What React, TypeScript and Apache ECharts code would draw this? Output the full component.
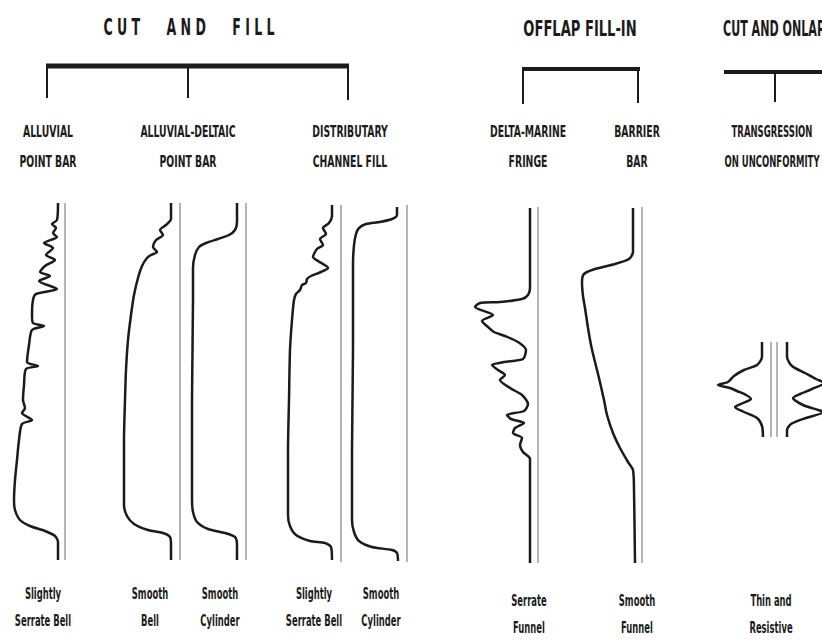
import React, { useEffect, useRef } from "react";
import * as echarts from "echarts";

// Log-track baselines: [x, topDepth, bottomDepth]
const trackBaselines: number[][] = [
  [65, 203, 560],
  [180, 203, 560],
  [246, 203, 560],
  [341, 205, 562],
  [407, 205, 562],
  [538, 207, 563],
  [642, 207, 563],
  [771, 342, 437],
  [777, 342, 437],
];

// Log curves: [response, depth]
const alluvialPointBar: number[][] = [
  [58, 203], [57, 220], [52, 224], [56, 228], [53, 233], [57, 237], [44, 243], [53, 248],
  [46, 255], [55, 260], [45, 266], [40, 272], [50, 276], [39, 281], [57, 289], [36, 294],
  [33, 300], [32, 315], [33, 323], [44, 326], [32, 330], [29, 345], [27, 362], [38, 366],
  [26, 369], [24, 385], [23, 400], [25, 408], [22, 413], [32, 420], [22, 424], [19, 440],
  [17, 460], [15, 480], [14, 500], [15, 510], [20, 520], [30, 526], [45, 531], [55, 536],
  [58, 542], [58, 560],
];
const alluvialDeltaicBell: number[][] = [
  [171, 203], [171, 219], [166, 225], [160, 230], [163, 235], [156, 240], [153, 247],
  [157, 252], [151, 255], [147, 258], [142, 266], [138, 278], [134, 295], [131, 315],
  [128, 340], [126, 370], [125, 400], [124, 440], [124, 480], [124, 505], [127, 516],
  [134, 524], [148, 530], [163, 533], [170, 537], [171, 545], [171, 560],
];
const alluvialDeltaicCylinder: number[][] = [
  [237, 203], [237, 222], [235, 230], [229, 235], [218, 239], [206, 243], [199, 247],
  [195, 255], [193, 268], [193, 300], [192, 400], [192, 500], [193, 512], [197, 522],
  [208, 529], [225, 533], [235, 537], [237, 545], [237, 560],
];
const distributaryBell: number[][] = [
  [332, 205], [332, 216], [329, 223], [323, 228], [326, 234], [320, 239], [323, 245],
  [317, 249], [313, 257], [318, 261], [328, 268], [321, 272], [311, 276], [307, 279],
  [306, 283], [302, 285], [300, 290], [296, 294], [294, 300], [292, 320], [290, 350],
  [289, 400], [288, 450], [288, 515], [290, 526], [296, 535], [310, 541], [325, 543],
  [331, 547], [332, 560],
];
const distributaryCylinder: number[][] = [
  [397, 207], [397, 215], [392, 219], [380, 222], [366, 224], [359, 228], [356, 234],
  [354, 245], [353, 265], [353, 350], [352, 450], [352, 520], [354, 532], [359, 541],
  [372, 547], [392, 550], [397, 553], [398, 561],
];
const deltaMarineFunnel: number[][] = [
  [530, 208], [530, 288], [528, 295], [522, 299], [500, 302], [480, 303], [475, 307],
  [493, 315], [482, 321], [488, 327], [494, 332], [505, 336], [518, 342], [526, 350],
  [523, 359], [504, 362], [492, 365], [498, 370], [505, 375], [500, 380], [510, 388],
  [522, 395], [528, 404], [524, 411], [507, 415], [511, 419], [524, 423], [515, 428],
  [513, 433], [522, 438], [520, 445], [523, 452], [530, 459], [530, 563],
];
const barrierBarFunnel: number[][] = [
  [633, 208], [633, 252], [629, 259], [615, 264], [595, 269], [584, 274], [582, 282],
  [583, 296], [585, 308], [588, 328], [591, 345], [594, 358], [599, 378], [604, 400],
  [607, 415], [613, 433], [620, 448], [628, 462], [633, 470], [634, 490], [635, 563],
];
const resistiveLeft: number[][] = [
  [762, 342], [762, 357], [757, 365], [744, 370], [734, 376], [728, 382], [718, 385],
  [730, 388], [737, 391], [746, 395], [751, 399], [743, 403], [735, 407], [744, 412],
  [757, 418], [762, 426], [763, 437],
];
const resistiveRight: number[][] = [
  [787, 342], [787, 357], [792, 366], [805, 373], [816, 379], [824, 383], [812, 389],
  [800, 394], [793, 398], [803, 405], [818, 410], [824, 412], [806, 418], [791, 424],
  [787, 430], [787, 437],
];

const curves = [
  alluvialPointBar, alluvialDeltaicBell, alluvialDeltaicCylinder, distributaryBell,
  distributaryCylinder, deltaMarineFunnel, barrierBarFunnel, resistiveLeft, resistiveRight,
];

const groupTitles = ["C U T      A N D      F I L L", "OFFLAP FILL-IN", "CUT AND ONLAP"];
const settingLabels = [
  ["ALLUVIAL", "POINT BAR"],
  ["ALLUVIAL-DELTAIC", "POINT BAR"],
  ["DISTRIBUTARY", "CHANNEL FILL"],
  ["DELTA-MARINE", "FRINGE"],
  ["BARRIER", "BAR"],
  ["TRANSGRESSION", "ON UNCONFORMITY"],
];
const shapeLabels = [
  ["Slightly", "Serrate Bell"],
  ["Smooth", "Bell"],
  ["Smooth", "Cylinder"],
  ["Slightly", "Serrate Bell"],
  ["Smooth", "Cylinder"],
  ["Serrate", "Funnel"],
  ["Smooth", "Funnel"],
  ["Thin and", "Resistive"],
];

const INK = "#1b1b1b";
const FONT = "DejaVu Sans Condensed";

export default function App() {
  const ref = useRef<HTMLDivElement>(null);
  useEffect(() => {
    document.body.style.margin = "0";
    const chart = echarts.init(ref.current!, null, { renderer: "svg" });

    const text = (t: string, x: number, y: number, size: number, bold: boolean, sx: number, sy: number, align = "center") => ({
      type: "text",
      x,
      y,
      scaleX: sx,
      scaleY: sy,
      style: {
        text: t,
        fill: INK,
        font: `${bold ? "bold " : ""}${size}px "${FONT}"`,
        align,
        verticalAlign: "middle",
      },
    });
    const seg = (x1: number, y1: number, x2: number, y2: number, w: number) => ({
      type: "line",
      shape: { x1, y1, x2, y2 },
      style: { stroke: INK, lineWidth: w },
    });

    const settingPos = [48, 188, 350, 528, 637, 772];
    const shapePos = [43, 150, 220, 314, 381, 529, 637, 771];

    const graphics: any[] = [
      text(groupTitles[0], 189, 27, 14, true, 1, 1.6),
      text(groupTitles[1], 580, 28, 13, true, 1.12, 1.6),
      text(groupTitles[2], 723, 29, 13, true, 0.95, 1.6, "left"),
      // brackets
      seg(46, 66, 349, 66, 5),
      seg(47, 66, 47, 98, 2),
      seg(188, 66, 188, 98, 2),
      seg(348, 66, 348, 100, 2),
      seg(522, 69, 640, 69, 4),
      seg(523, 69, 523, 104, 2),
      seg(638, 69, 638, 103, 2),
      seg(724, 72, 822, 72, 4),
      seg(775, 72, 775, 102, 2),
    ];
    settingLabels.forEach((l, i) => {
      const cx = settingPos[i];
      const sx = i === 5 ? 0.86 : 0.94;
      graphics.push(text(l[0], cx, 132, 11, true, sx, 1.45));
      graphics.push(text(l[1], cx, 162, 11, true, sx, 1.45));
    });
    shapeLabels.forEach((l, i) => {
      const cx = shapePos[i];
      const dy = i >= 5 ? 7 : 0;
      graphics.push(text(l[0], cx, 593 + dy, 11, true, 0.85, 1.5));
      graphics.push(text(l[1], cx, 620 + dy, 11, true, 0.85, 1.5));
    });

    const series: any[] = [];
    trackBaselines.forEach((t) => {
      series.push({
        type: "line",
        data: [[t[0], t[1]], [t[0], t[2]]],
        showSymbol: false,
        lineStyle: { color: "#8c8c8c", width: 1.3 },
        silent: true,
      });
    });
    curves.forEach((c) => {
      series.push({
        type: "line",
        data: c,
        showSymbol: false,
        smooth: 0.25,
        lineStyle: { color: INK, width: 2.5 },
        silent: true,
      });
    });

    chart.setOption({
      animation: false,
      backgroundColor: "#ffffff",
      grid: { left: 0, top: 0, right: 0, bottom: 0 },
      xAxis: { type: "value", min: 0, max: 822, show: false },
      yAxis: { type: "value", min: 0, max: 643, inverse: true, show: false },
      series,
      graphic: graphics,
    });
    return () => chart.dispose();
  }, []);
  return <div ref={ref} style={{ position: "absolute", left: 0, top: 0, width: 822, height: 643 }} />;
}
